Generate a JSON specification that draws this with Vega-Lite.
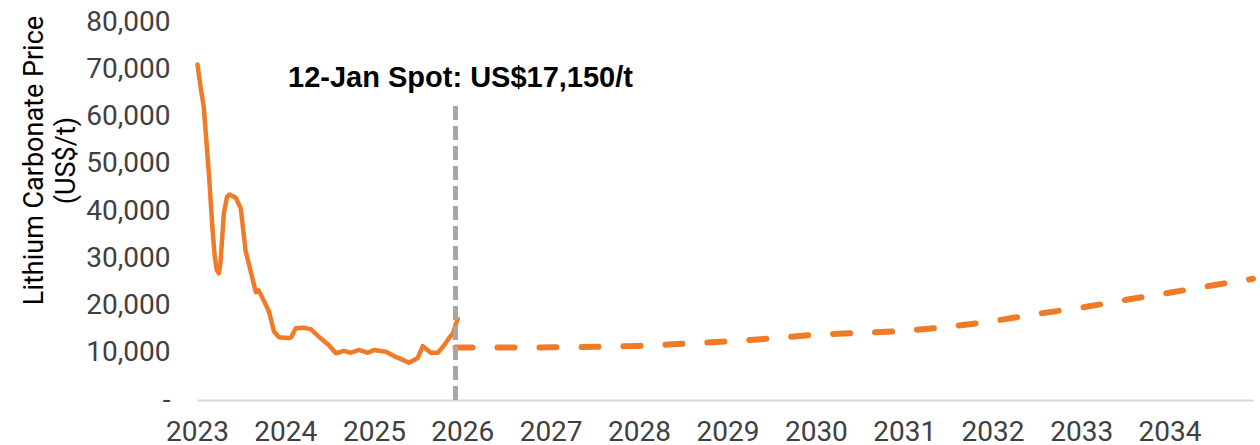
{
  "$schema": "https://vega.github.io/schema/vega-lite/v6.json",
  "width": 1056,
  "height": 378,
  "autosize": "none",
  "padding": {"left": 197, "top": 22, "right": 7, "bottom": 45},
  "background": "white",
  "config": {"view": {"stroke": null}, "font": "Roboto"},
  "datasets": {
    "prices": [
      {"date": "2023-01-03", "price": 71000, "series": "Historical"},
      {"date": "2023-01-15", "price": 66500, "series": "Historical"},
      {"date": "2023-01-29", "price": 62000, "series": "Historical"},
      {"date": "2023-02-19", "price": 48000, "series": "Historical"},
      {"date": "2023-03-05", "price": 37000, "series": "Historical"},
      {"date": "2023-03-15", "price": 30500, "series": "Historical"},
      {"date": "2023-03-24", "price": 27500, "series": "Historical"},
      {"date": "2023-04-01", "price": 26800, "series": "Historical"},
      {"date": "2023-04-08", "price": 29000, "series": "Historical"},
      {"date": "2023-04-22", "price": 39500, "series": "Historical"},
      {"date": "2023-05-05", "price": 43000, "series": "Historical"},
      {"date": "2023-05-15", "price": 43500, "series": "Historical"},
      {"date": "2023-06-10", "price": 42800, "series": "Historical"},
      {"date": "2023-07-01", "price": 40500, "series": "Historical"},
      {"date": "2023-07-21", "price": 31500, "series": "Historical"},
      {"date": "2023-08-11", "price": 27200, "series": "Historical"},
      {"date": "2023-09-01", "price": 22800, "series": "Historical"},
      {"date": "2023-09-12", "price": 23200, "series": "Historical"},
      {"date": "2023-09-22", "price": 22300, "series": "Historical"},
      {"date": "2023-10-25", "price": 18800, "series": "Historical"},
      {"date": "2023-11-15", "price": 14500, "series": "Historical"},
      {"date": "2023-12-05", "price": 13300, "series": "Historical"},
      {"date": "2024-01-15", "price": 13100, "series": "Historical"},
      {"date": "2024-01-25", "price": 13300, "series": "Historical"},
      {"date": "2024-02-13", "price": 15200, "series": "Historical"},
      {"date": "2024-03-17", "price": 15300, "series": "Historical"},
      {"date": "2024-04-15", "price": 15000, "series": "Historical"},
      {"date": "2024-05-27", "price": 13000, "series": "Historical"},
      {"date": "2024-06-29", "price": 11600, "series": "Historical"},
      {"date": "2024-07-28", "price": 9900, "series": "Historical"},
      {"date": "2024-08-30", "price": 10400, "series": "Historical"},
      {"date": "2024-09-28", "price": 10000, "series": "Historical"},
      {"date": "2024-10-31", "price": 10600, "series": "Historical"},
      {"date": "2024-12-07", "price": 10000, "series": "Historical"},
      {"date": "2025-01-01", "price": 10600, "series": "Historical"},
      {"date": "2025-02-20", "price": 10200, "series": "Historical"},
      {"date": "2025-03-25", "price": 9300, "series": "Historical"},
      {"date": "2025-05-01", "price": 8500, "series": "Historical"},
      {"date": "2025-05-26", "price": 7900, "series": "Historical"},
      {"date": "2025-07-01", "price": 8900, "series": "Historical"},
      {"date": "2025-07-22", "price": 11400, "series": "Historical"},
      {"date": "2025-08-24", "price": 10000, "series": "Historical"},
      {"date": "2025-09-22", "price": 10000, "series": "Historical"},
      {"date": "2025-10-17", "price": 11500, "series": "Historical"},
      {"date": "2025-11-06", "price": 13000, "series": "Historical"},
      {"date": "2025-11-23", "price": 14000, "series": "Historical"},
      {"date": "2025-12-05", "price": 16000, "series": "Historical"},
      {"date": "2025-12-13", "price": 17150, "series": "Historical"},
      {"date": "2025-12-04", "price": 11100, "series": "Forecast"},
      {"date": "2026-06-01", "price": 11100, "series": "Forecast"},
      {"date": "2027-01-01", "price": 11150, "series": "Forecast"},
      {"date": "2027-07-01", "price": 11250, "series": "Forecast"},
      {"date": "2028-01-01", "price": 11450, "series": "Forecast"},
      {"date": "2028-07-01", "price": 11900, "series": "Forecast"},
      {"date": "2029-01-01", "price": 12400, "series": "Forecast"},
      {"date": "2029-07-01", "price": 13050, "series": "Forecast"},
      {"date": "2030-01-01", "price": 13800, "series": "Forecast"},
      {"date": "2030-07-01", "price": 14200, "series": "Forecast"},
      {"date": "2031-01-01", "price": 14650, "series": "Forecast"},
      {"date": "2031-07-01", "price": 15500, "series": "Forecast"},
      {"date": "2032-01-01", "price": 16700, "series": "Forecast"},
      {"date": "2032-07-01", "price": 18200, "series": "Forecast"},
      {"date": "2033-01-01", "price": 19550, "series": "Forecast"},
      {"date": "2033-07-01", "price": 21150, "series": "Forecast"},
      {"date": "2034-01-01", "price": 22700, "series": "Forecast"},
      {"date": "2034-07-01", "price": 24300, "series": "Forecast"},
      {"date": "2034-12-12", "price": 25650, "series": "Forecast"}
    ],
    "spot": [
      {"date": "2025-12-04", "label": "12-Jan Spot: US$17,150/t", "price": 17150}
    ]
  },
  "encoding": {
    "x": {
      "field": "date",
      "type": "temporal",
      "scale": {
        "type": "utc",
        "domain": [
          {"year": 2023, "month": 1, "date": 1, "utc": true},
          {"year": 2034, "month": 12, "date": 12, "utc": true}
        ]
      },
      "axis": {
        "title": null,
        "format": "%Y",
        "formatType": "utc",
        "tickCount": {"interval": "year", "step": 1},
        "grid": false,
        "ticks": false,
        "domainColor": "#D9D9D9",
        "domainWidth": 2,
        "labelFontSize": 28,
        "labelColor": "#404040",
        "labelPadding": 18,
        "labelFlush": false,
        "labelOverlap": false
      }
    }
  },
  "layer": [
    {
      "data": {"name": "prices"},
      "transform": [{"filter": "datum.series === 'Historical'"}],
      "mark": {"type": "line", "color": "#EF7B28", "strokeWidth": 4.5, "strokeJoin": "round", "strokeCap": "round"},
      "encoding": {
        "y": {
          "field": "price",
          "type": "quantitative",
          "scale": {"domain": [0, 80000], "nice": false, "zero": true},
          "axis": {
            "values": [0, 10000, 20000, 30000, 40000, 50000, 60000, 70000, 80000],
            "labelExpr": "datum.value === 0 ? '-\u00a0' : format(datum.value, ',')",
            "domain": false,
            "ticks": false,
            "grid": false,
            "labelFontSize": 28,
            "labelColor": "#404040",
            "labelPadding": 27,
            "title": ["Lithium Carbonate Price", "(US$/t)"],
            "titleFont": "Roboto",
            "titleFontSize": 27,
            "titleFontWeight": "normal",
            "titleColor": "#000000",
            "titleAngle": -90,
            "titleAlign": "center",
            "titleBaseline": "top",
            "titleLineHeight": 32,
            "titleX": -176,
            "titleY": 138
          }
        }
      }
    },
    {
      "data": {"name": "prices"},
      "transform": [{"filter": "datum.series === 'Forecast'"}],
      "mark": {"type": "line", "color": "#EF7B28", "strokeWidth": 6, "strokeCap": "round", "strokeDash": [17, 25], "interpolate": "monotone"},
      "encoding": {
        "y": {"field": "price", "type": "quantitative"}
      }
    },
    {
      "data": {"name": "spot"},
      "mark": {"type": "rule", "color": "#A6A6A6", "strokeWidth": 5, "strokeDash": [14, 6]},
      "encoding": {
        "y": {"datum": 0, "type": "quantitative"},
        "y2": {"datum": 62800}
      }
    },
    {
      "data": {"name": "spot"},
      "mark": {"type": "text", "font": "Liberation Sans", "fontWeight": "bold", "fontSize": 29, "color": "#000000", "align": "center", "baseline": "alphabetic", "dx": 5},
      "encoding": {
        "y": {"datum": 66200, "type": "quantitative"},
        "text": {"field": "label"}
      }
    }
  ]
}
